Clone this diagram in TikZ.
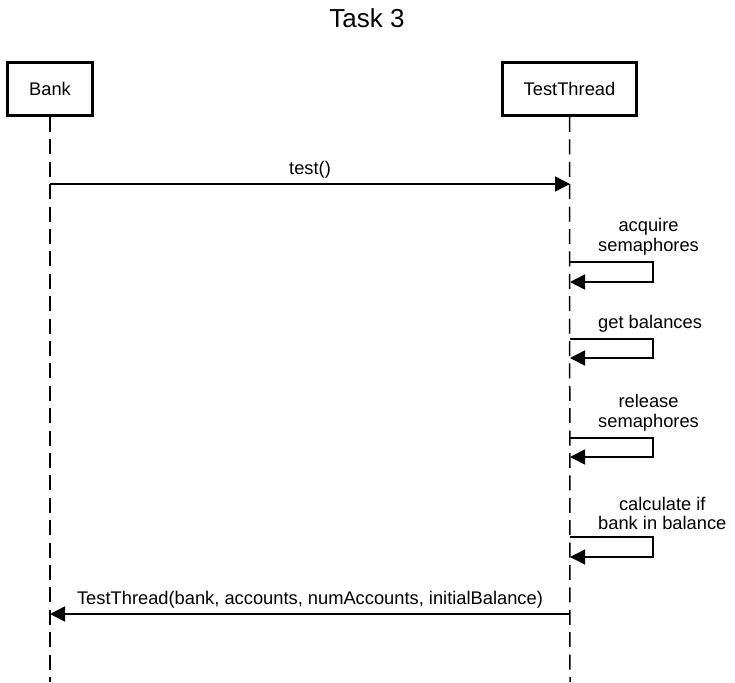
\documentclass[tikz,border=0pt]{standalone}
\usepackage{fontspec}
\setmainfont{Liberation Sans}
\usetikzlibrary{arrows.meta}
\begin{document}
\begin{tikzpicture}[x=1pt,y=-1pt,
  actor/.style={draw, line width=3pt, inner sep=0pt, font=\fontsize{18.3}{20}\selectfont},
  life/.style={line width=1.5pt, dash pattern=on 15pt off 7.4pt},
  msg/.style={line width=1.5pt, -{Triangle[length=15pt,width=15pt]}},
  lbl/.style={font=\fontsize{18.3}{19.5}\selectfont, inner sep=0pt, align=center},
]
\useasboundingbox (0,0) rectangle (735,682);
\node[font=\fontsize{26}{30}\selectfont, inner sep=0pt] (title) at (367,18.5) {Task 3};
\node[actor, minimum width=85pt, minimum height=53pt] (bank) at (50,89) {Bank};
\node[actor, minimum width=134pt, minimum height=53pt] (tt) at (569.5,89) {TestThread};
\coordinate (bankend) at (50,682);
\coordinate (ttend) at (570,682);
\draw[life] (bank.south) -- (bankend);
\draw[life] (tt.south) -- (ttend);
% test()
\coordinate (b1) at (50,184);
\coordinate (t1) at (570,184);
\draw[msg] (b1) -- node[lbl, above=5pt] (l1) {test()} (t1);
% self messages
\coordinate (s1a) at (570,262); \coordinate (s1b) at (570,282);
\draw[msg] (s1a) -- ++(83,0) |- (s1b);
\node[lbl, anchor=south west] (l2) at (598,255) {acquire\\semaphores};
\coordinate (s2a) at (570,339); \coordinate (s2b) at (570,358);
\draw[msg] (s2a) -- ++(83,0) |- (s2b);
\node[lbl, anchor=south west] (l3) at (598,332) {get balances};
\coordinate (s3a) at (570,438); \coordinate (s3b) at (570,457);
\draw[msg] (s3a) -- ++(83,0) |- (s3b);
\node[lbl, anchor=south west] (l4) at (598,431) {release\\semaphores};
\coordinate (s4a) at (570,537); \coordinate (s4b) at (570,557);
\draw[msg] (s4a) -- ++(83,0) |- (s4b);
\node[lbl, anchor=south west] (l5) at (598,530) {calculate if\\bank in balance};
% return
\coordinate (t6) at (570,614);
\coordinate (b6) at (50,614);
\draw[msg] (t6) -- node[lbl, above=5pt] (l6) {TestThread(bank, accounts, numAccounts, initialBalance)} (b6);
\end{tikzpicture}
\end{document}
